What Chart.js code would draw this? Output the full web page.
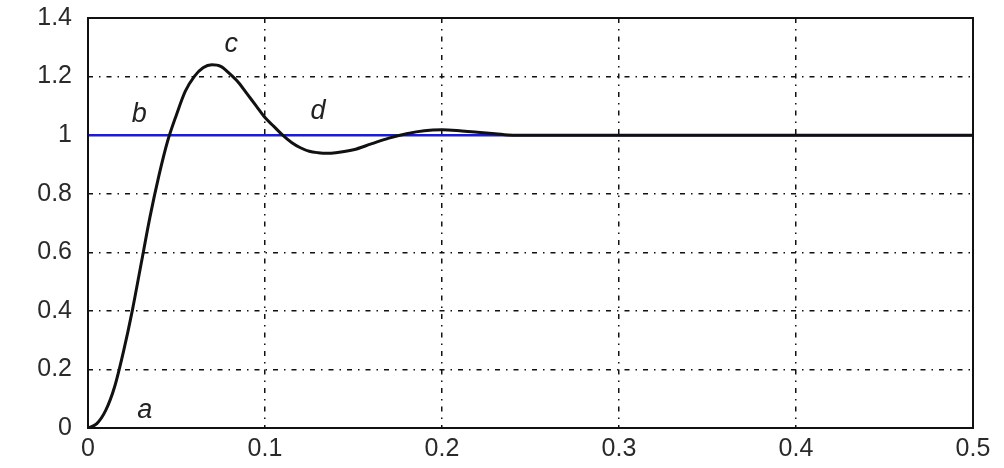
<!DOCTYPE html>
<html lang="en">
<head>
    <meta charset="UTF-8">
    <title>Step response</title>
    <script src="https://cdn.jsdelivr.net/npm/chart.js@4.4.1/dist/chart.umd.min.js"></script>
    <style>
        html, body { margin: 0; padding: 0; background: #fff; }
        #wrap { width: 1004px; height: 468px; }
    </style>
</head>
<body>
    <div id="wrap"><canvas id="stepChart"></canvas></div>
    <script>
// time (s) and response
var times    = [0, 0.005, 0.01, 0.015, 0.02, 0.025, 0.03, 0.035, 0.04, 0.045, 0.05, 0.055, 0.06, 0.065, 0.07, 0.075, 0.08, 0.085, 0.09, 0.095, 0.1, 0.105, 0.11, 0.115, 0.12, 0.125, 0.13, 0.135, 0.14, 0.15, 0.16, 0.17, 0.18, 0.19, 0.2, 0.21, 0.22, 0.23, 0.24, 0.3, 0.4, 0.5];
var response = [0, 0.015, 0.06, 0.14, 0.26, 0.40, 0.56, 0.72, 0.86, 0.98, 1.07, 1.15, 1.20, 1.23, 1.24, 1.235, 1.21, 1.18, 1.14, 1.10, 1.06, 1.03, 1.00, 0.975, 0.957, 0.945, 0.94, 0.938, 0.94, 0.95, 0.97, 0.99, 1.005, 1.015, 1.018, 1.015, 1.01, 1.005, 1.0, 1.0, 1.0, 1.0];
var refTimes = [0, 0.5];
var refLevel = [1, 1];
var xTicks = [0, 0.1, 0.2, 0.3, 0.4, 0.5];
var yTicks = [0, 0.2, 0.4, 0.6, 0.8, 1, 1.2, 1.4];
// point letters on the curve
var marks = [
    { t: 'a', x: 0.032, y: 0.06 },
    { t: 'b', x: 0.029, y: 1.07 },
    { t: 'c', x: 0.081, y: 1.31 },
    { t: 'd', x: 0.130, y: 1.08 }
];

function pairs(xs, ys) {
    return xs.map(function (x, i) { return { x: x, y: ys[i] }; });
}

function gridColor(ctx) {
    // no dotted line on the box edges
    if (ctx.index === 0 || ctx.index === ctx.scale.ticks.length - 1) return 'rgba(0,0,0,0)';
    return '#111';
}

var boxAndLetters = {
    id: 'boxAndLetters',
    afterDatasetsDraw: function (chart) {
        var c = chart.ctx, a = chart.chartArea;
        var xs = chart.scales.x, ys = chart.scales.y;
        c.save();
        c.strokeStyle = '#111';
        c.lineWidth = 2;
        c.strokeRect(a.left, a.top, a.right - a.left, a.bottom - a.top);
        c.fillStyle = '#222';
        c.font = 'italic 27px "Liberation Sans", Arial, sans-serif';
        c.textAlign = 'center';
        c.textBaseline = 'middle';
        marks.forEach(function (m) {
            c.fillText(m.t, xs.getPixelForValue(m.x), ys.getPixelForValue(m.y));
        });
        c.restore();
    }
};

var ctx = document.getElementById('stepChart').getContext('2d');
var stepChart = new Chart(ctx, {
    type: 'scatter',
    data: {
        datasets: [
            {
                data: pairs(times, response),
                showLine: true,
                borderColor: '#111',
                borderWidth: 3,
                pointRadius: 0,
                cubicInterpolationMode: 'monotone'
            },
            {
                data: pairs(refTimes, refLevel),
                showLine: true,
                borderColor: '#1a1ae0',
                borderWidth: 2.5,
                pointRadius: 0
            }
        ]
    },
    options: {
        responsive: true,
        maintainAspectRatio: false,
        animation: false,
        layout: { padding: { top: 18, right: 31, left: 0, bottom: 0 } },
        plugins: { legend: { display: false }, tooltip: { enabled: false } },
        scales: {
            x: {
                type: 'linear',
                min: 0,
                max: 0.5,
                afterBuildTicks: function (s) { s.ticks = xTicks.map(function (v) { return { value: v }; }); },
                afterFit: function (s) { s.height = 40; s.paddingLeft = 0; s.paddingRight = 0; },
                ticks: {
                    font: { family: 'Liberation Sans', size: 25 },
                    color: '#2a2a2a',
                    padding: 6,
                    maxRotation: 0,
                    callback: function (v) { return String(v); }
                },
                grid: { color: gridColor, lineWidth: 1.5, drawTicks: false },
                border: { display: false, dash: [5, 6, 1.5, 6] }
            },
            y: {
                min: 0,
                max: 1.4,
                afterBuildTicks: function (s) { s.ticks = yTicks.map(function (v) { return { value: v }; }); },
                afterFit: function (s) { s.width = 88; s.paddingTop = 0; s.paddingBottom = 0; },
                ticks: {
                    font: { family: 'Liberation Sans', size: 25 },
                    color: '#2a2a2a',
                    padding: 16,
                    callback: function (v) { return String(v); }
                },
                grid: { color: gridColor, lineWidth: 1.5, drawTicks: false },
                border: { display: false, dash: [5, 6, 1.5, 6] }
            }
        }
    },
    plugins: [boxAndLetters]
});
    </script>
</body>
</html>
